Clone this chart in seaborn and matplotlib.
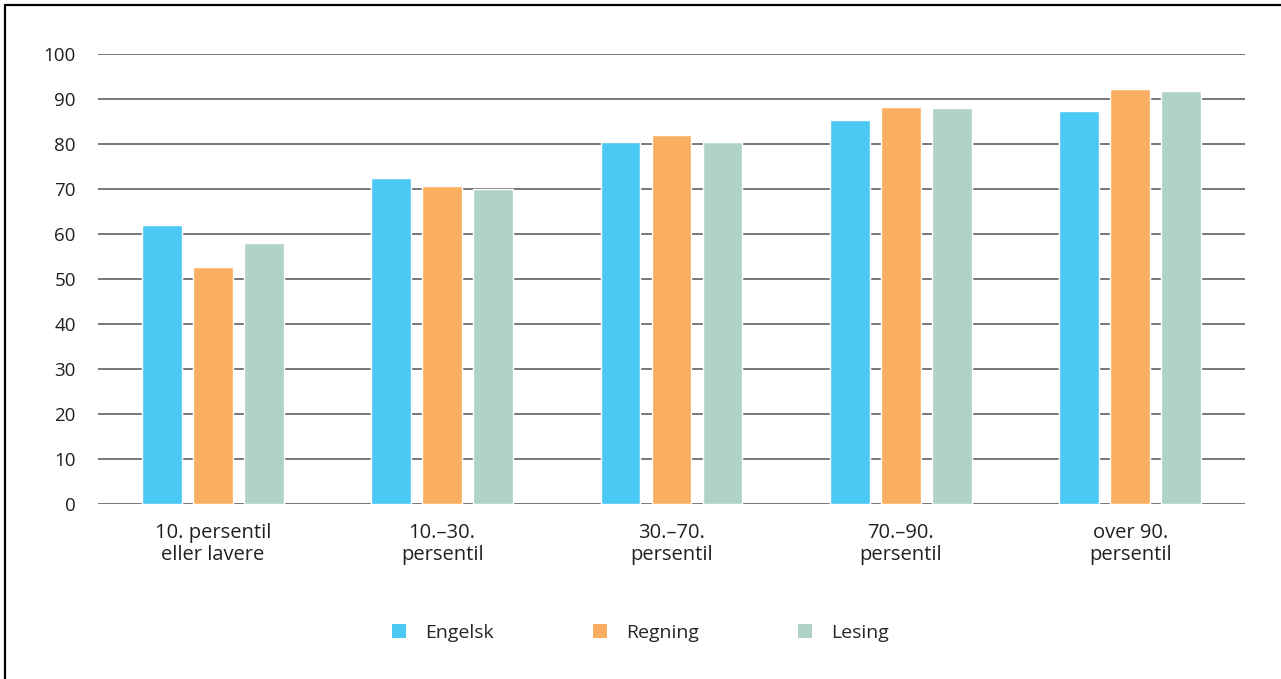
import pandas as pd
import seaborn as sns
import matplotlib.pyplot as plt
from matplotlib.lines import Line2D
from matplotlib.patches import Patch

# Values
groups = ['10. persentil\neller lavere', '10.–30.\npersentil',
          '30.–70.\npersentil', '70.–90.\npersentil', 'over 90.\npersentil']
subjects = ['Engelsk', 'Regning', 'Lesing']
engelsk = [62.1, 72.5, 80.4, 85.3, 87.3]
regning = [52.6, 70.6, 81.9, 88.3, 92.2]
lesing = [57.9, 69.9, 80.4, 87.9, 91.7]
colors = ['#4bc8f3', '#f9af5f', '#afd3c5']

df = pd.DataFrame({'Gruppe': groups * 3,
                   'Fag': [s for s in subjects for _ in groups],
                   'Verdi': engelsk + regning + lesing})

sns.set_theme(style='white')
plt.rcParams['font.family'] = ['Open Sans', 'DejaVu Sans']

fig = plt.figure(figsize=(12.81, 6.79), dpi=100)
ax = fig.add_axes([98 / 1281, 175 / 679, 1147 / 1281, 450 / 679])

sns.barplot(ax=ax, data=df, x='Gruppe', y='Verdi', hue='Fag',
            palette=colors, width=0.667, gap=0.22, legend=False,
            saturation=1)

ax.set_xlim(-0.5, 4.5)
ax.set_ylim(0, 100)
ax.set_yticks(range(0, 101, 10))
ax.yaxis.grid(True, color='#606060', linewidth=1.2)
ax.set_axisbelow(True)
for s in ax.spines.values():
    s.set_visible(False)
ax.set_xlabel('')
ax.set_ylabel('')
ax.tick_params(axis='y', length=0, pad=16, labelsize=13.5, labelcolor='#231f20')
ax.tick_params(axis='x', length=0, pad=14, labelsize=14.5, labelcolor='#231f20')
for lbl in ax.get_xticklabels():
    lbl.set_linespacing(1.1)

handles = [Patch(facecolor=c, edgecolor='none') for c in colors]
fig.legend(handles, subjects, loc='center', bbox_to_anchor=(0.5, 1 - 633 / 679),
           ncol=3, frameon=False, fontsize=14, handlelength=0.7,
           handleheight=0.7, handletextpad=1.0, columnspacing=5.1)

# frame (cropped on right and bottom in the original)
fig.add_artist(Line2D([5 / 1281, 1], [1 - 5 / 679, 1 - 5 / 679],
                      color='black', linewidth=1.6, transform=fig.transFigure))
fig.add_artist(Line2D([5 / 1281, 5 / 1281], [0, 1 - 5 / 679],
                      color='black', linewidth=1.6, transform=fig.transFigure))

plt.savefig('out.png', dpi=100)
